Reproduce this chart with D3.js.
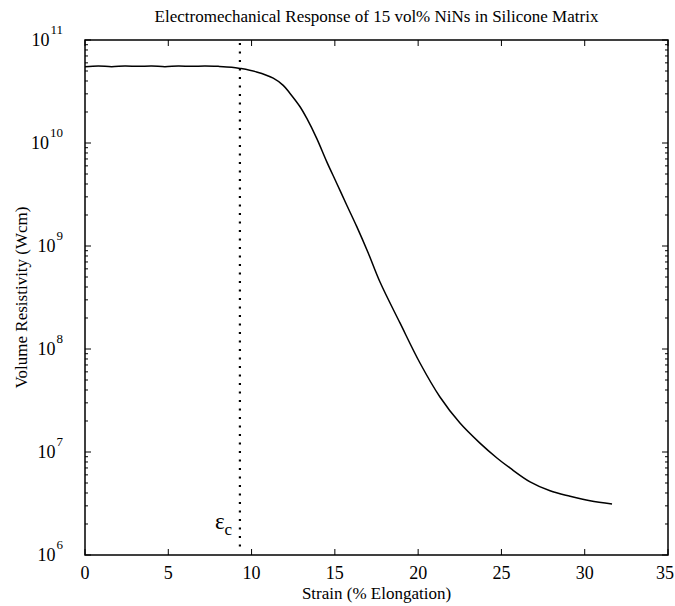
<!DOCTYPE html>
<html>
<head>
<meta charset="utf-8">
<script src="https://cdn.jsdelivr.net/npm/d3@7"></script>
<style>
  body { margin: 0; background: #fff; }
  text { font-family: "Liberation Serif", "Times New Roman", serif; fill: #000; }
</style>
</head>
<body>
<div id="chart"></div>
<script>
// strain (% elongation) and volume resistivity (ohm cm)
const strain = [0, 0.8, 1.6, 2.4, 3.2, 4.0, 4.8, 5.6, 6.4, 7.2, 8.0, 8.8, 9.31, 10.3, 11.3, 11.9, 12.31, 12.91,
  13.31, 13.91, 14.51, 15.11, 15.71, 16.31, 17.01, 17.71, 18.91, 20.11, 21.31, 22.51, 23.71,
  24.73, 25.51, 26.72, 27.92, 29.12, 30.32, 31.64];
const resistivity = [5.5e10, 5.6e10, 5.5e10, 5.6e10, 5.55e10, 5.6e10, 5.5e10, 5.6e10, 5.55e10, 5.6e10, 5.55e10, 5.45e10,
  5.3e10, 4.9e10, 4.27e10, 3.63e10, 3.03e10, 2.25e10,
  1.74e10, 1.11e10, 6.6e9, 4.07e9, 2.5e9, 1.55e9, 8.5e8, 4.47e8, 1.79e8, 7.31e7, 3.42e7, 1.91e7, 1.22e7,
  8.75e6, 7.0e6, 5.13e6, 4.2e6, 3.72e6, 3.36e6, 3.13e6];
const criticalStrain = 9.3;
const xTicks = [0, 5, 10, 15, 20, 25, 30, 35];
const yDecades = [6, 7, 8, 9, 10, 11];

const width = 675, height = 606;
const margin = {top: 40, right: 7, bottom: 51, left: 85};

const x = d3.scaleLinear().domain([0, 35]).range([margin.left, width - margin.right]);
const y = d3.scaleLog().domain([1e6, 1e11]).range([height - margin.bottom, margin.top]);

const svg = d3.select("#chart").append("svg")
    .attr("width", width)
    .attr("height", height);

// minor ticks for the log axis
const minor = [];
yDecades.slice(0, -1).forEach(e => {
  for (let k = 2; k <= 9; k++) minor.push(k * Math.pow(10, e));
});

const axes = svg.append("g").attr("stroke", "#000").attr("stroke-width", 1);

// frame
axes.append("rect")
    .attr("x", margin.left).attr("y", margin.top)
    .attr("width", width - margin.left - margin.right)
    .attr("height", height - margin.top - margin.bottom)
    .attr("fill", "none")
    .attr("stroke-width", 1.5);

// x ticks, bottom and top, pointing inward
axes.selectAll(".xt").data(xTicks).join("path")
    .attr("d", d => `M${x(d)},${y(1e6)}v-6M${x(d)},${y(1e11)}v6`);

// y major ticks
axes.selectAll(".yt").data(yDecades).join("path")
    .attr("d", d => `M${x(0)},${y(Math.pow(10, d))}h6M${x(35)},${y(Math.pow(10, d))}h-6`);

// y minor ticks
axes.selectAll(".ym").data(minor).join("path")
    .attr("d", d => `M${x(0)},${y(d)}h3M${x(35)},${y(d)}h-3`);

// x tick labels (last one nudged so it stays on the page)
svg.append("g").selectAll("text").data(xTicks).join("text")
    .attr("x", d => Math.min(x(d), width - 10))
    .attr("y", y(1e6) + 24)
    .attr("text-anchor", "middle")
    .attr("font-size", 18)
    .text(d => d);

// y tick labels: 10 with superscript exponent
const yl = svg.append("g").selectAll("text").data(yDecades).join("text")
    .attr("x", x(0) - 22)
    .attr("y", d => y(Math.pow(10, d)) + 6)
    .attr("text-anchor", "end")
    .attr("font-size", 18);
yl.append("tspan").text("10");
yl.append("tspan")
    .attr("dx", 1)
    .attr("dy", -12)
    .attr("font-size", 13)
    .text(d => d);

// critical strain marker
svg.append("line")
    .attr("x1", x(criticalStrain)).attr("x2", x(criticalStrain))
    .attr("y1", y(1e11) + 3).attr("y2", y(1e6) - 5)
    .attr("stroke", "#000")
    .attr("stroke-width", 2.2)
    .attr("stroke-dasharray", "2,6.5");

const eps = svg.append("text")
    .attr("x", x(criticalStrain) - 25)
    .attr("y", y(1e6) - 26)
    .attr("font-size", 23);
eps.append("tspan").text("\u03b5");
eps.append("tspan").attr("dy", 6).attr("font-size", 17).text("c");

// data curve
const line = d3.line()
    .x((d, i) => x(strain[i]))
    .y(d => y(d))
    .curve(d3.curveCatmullRom.alpha(0.5));

svg.append("path")
    .datum(resistivity)
    .attr("fill", "none")
    .attr("stroke", "#000")
    .attr("stroke-width", 1.5)
    .attr("d", line);

// titles
svg.append("text")
    .attr("x", (margin.left + width - margin.right) / 2)
    .attr("y", 22)
    .attr("text-anchor", "middle")
    .attr("font-size", 17)
    .text("Electromechanical Response of 15 vol% NiNs in Silicone Matrix");

svg.append("text")
    .attr("x", (margin.left + width - margin.right) / 2)
    .attr("y", 599)
    .attr("text-anchor", "middle")
    .attr("font-size", 17)
    .text("Strain (% Elongation)");

svg.append("text")
    .attr("transform", `translate(27,${(margin.top + height - margin.bottom) / 2}) rotate(-90)`)
    .attr("text-anchor", "middle")
    .attr("font-size", 17)
    .text("Volume Resistivity (Wcm)");
</script>
</body>
</html>
